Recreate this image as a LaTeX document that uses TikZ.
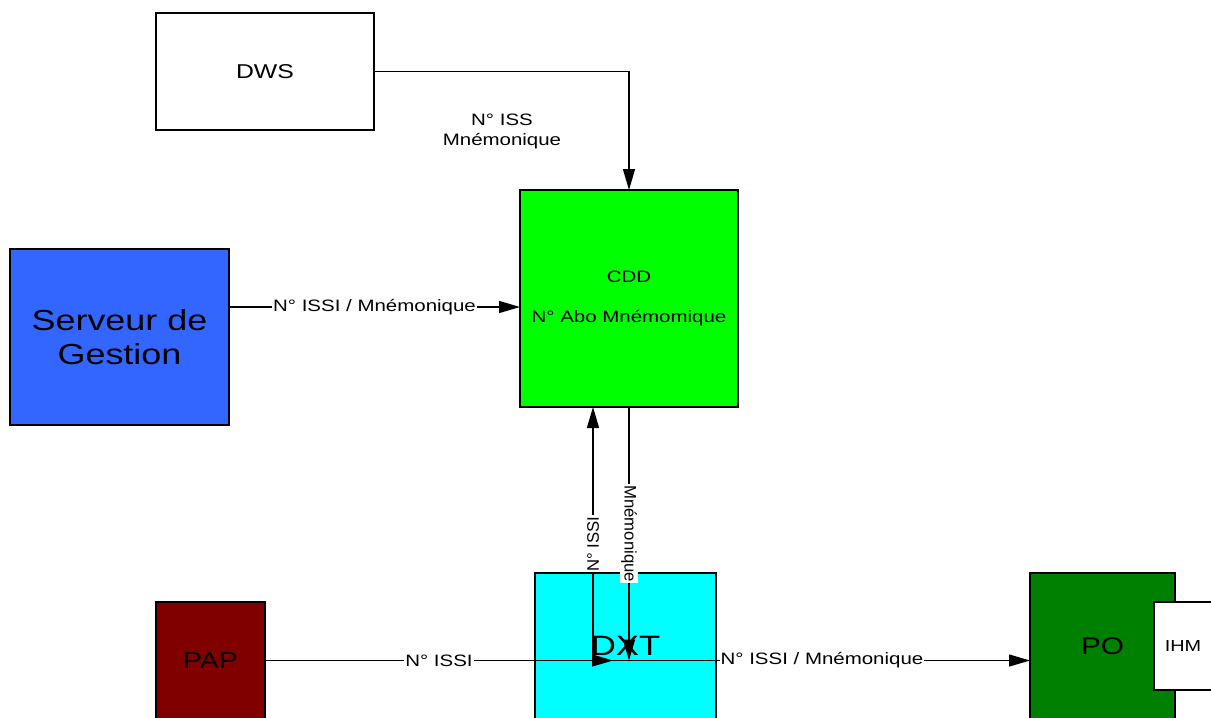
\documentclass[tikz,border=0pt]{standalone}
\usepackage{fontspec}
\setmainfont{Liberation Sans}[FakeStretch=1.24]
\newfontfamily\plainfont{Liberation Sans}
\usetikzlibrary{arrows.meta}
\definecolor{srvblue}{HTML}{3366FF}
\definecolor{cddgreen}{HTML}{00FF00}
\definecolor{dxtcyan}{HTML}{00FFFF}
\definecolor{papred}{HTML}{800000}
\definecolor{pogreen}{HTML}{008000}
\begin{document}
\begin{tikzpicture}[x=1pt,y=-1pt,
  box/.style={draw=black, line width=1.3pt, inner sep=0pt, outer sep=0pt, anchor=north west, align=center},
  arr/.style={draw=black, line width=1.3pt, -{Triangle[length=21pt,width=12pt]}},
  lbl/.style={fill=white, inner xsep=1pt, inner ysep=1pt, font=\fontsize{16.5}{20}\selectfont},
  vlbl/.style={fill=white, inner xsep=1pt, inner ysep=1pt, font=\plainfont\fontsize{16.7}{20}\selectfont}]
\clip (0,0) rectangle (1211,718);
\fill[white] (0,0) rectangle (1211,718);

\node[box, fill=white, minimum width=218pt, minimum height=117pt, font=\fontsize{20}{24}\selectfont] (dws) at (156,13) {DWS};
\node[box, fill=srvblue, minimum width=219pt, minimum height=176pt, font=\fontsize{29}{34}\selectfont] (srv) at (10,249) {Serveur de\\Gestion};
\node[box, fill=cddgreen, minimum width=218pt, minimum height=217pt, font=\fontsize{16.5}{40}\selectfont] (cdd) at (520,190) {CDD\\N° Abo Mnémomique};
\node[box, fill=papred, minimum width=109pt, minimum height=117pt, font=\fontsize{23}{27}\selectfont] (pap) at (156,602) {PAP};
\node[box, fill=dxtcyan, minimum width=181pt, minimum height=146pt, font=\fontsize{28}{32}\selectfont] (dxt) at (535,573) {DXT};
\node[box, fill=pogreen, minimum width=145pt, minimum height=146pt, font=\fontsize{24}{28}\selectfont] (po) at (1030,573) {PO};
\node[box, fill=white, minimum width=58pt, minimum height=88pt, font=\fontsize{16}{20}\selectfont] (ihm) at (1154,602) {IHM};

\coordinate (y307) at (0,307);
\coordinate (hin) at (593,660);
\coordinate (tipp) at (613,660);

\draw[arr] (dws.east) -| (cdd.north);
\node[lbl, align=center] (l1) at (502,131) {N° ISS\\Mnémonique};

\draw[arr] (srv.east |- y307) -- node[lbl] (l2) {N° ISSI / Mnémonique} (cdd.west |- y307);

\draw[arr] (pap.east) -- node[lbl] (l3) {N° ISSI} (tipp |- pap.east);

\draw[arr] (hin |- pap.east) -- node[vlbl, pos=0.46, rotate=90] (l4) {N° ISSI} (hin |- cdd.south);

\draw[arr] (cdd.south) -- node[vlbl, pos=0.5, rotate=-90] (l5) {Mnémonique} (cdd.south |- pap.east);

\draw[arr] (hin |- pap.east) -- node[lbl, pos=0.524] (l6) {N° ISSI / Mnémonique} (po.west |- pap.east);
\end{tikzpicture}
\end{document}
